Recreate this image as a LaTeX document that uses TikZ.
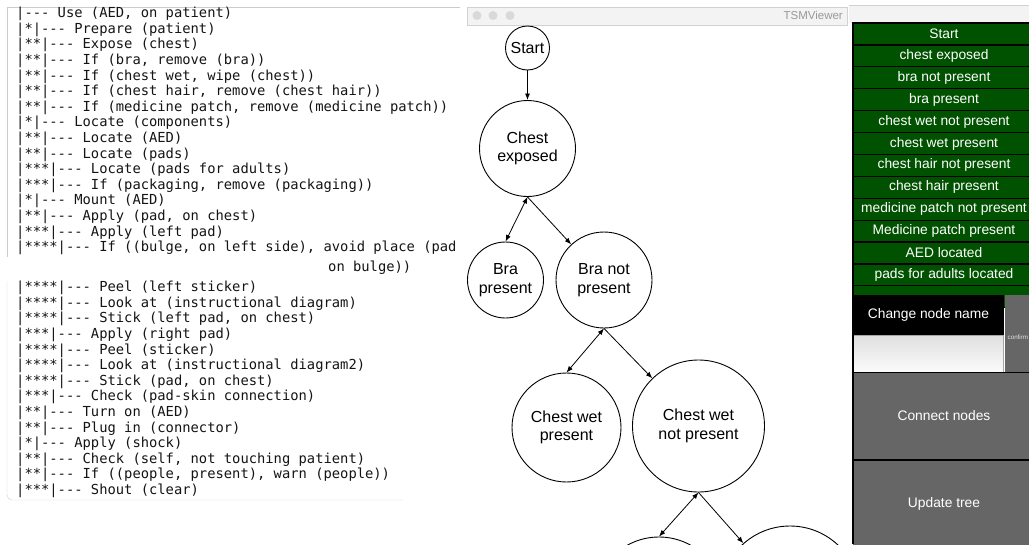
\documentclass[tikz,border=0pt]{standalone}
\usepackage{fontspec}
\setmainfont{Liberation Sans}
\setmonofont{DejaVu Sans Mono}
\usepackage{tikz}
\definecolor{tsmgreen}{RGB}{0,82,0}
\definecolor{btngray}{RGB}{102,102,102}
\definecolor{barbg}{RGB}{243,243,243}
\definecolor{codeink}{RGB}{20,20,20}
\tikzset{state/.style={draw,circle,line width=0.9pt,inner sep=0pt,align=center,font=\fontsize{16}{18.5}\selectfont} }
\tikzset{codeline/.style={anchor=west,inner sep=0pt,text=codeink,font=\ttfamily\fontsize{13.8}{15.6}\selectfont} }
\tikzset{listrow/.style={draw=black,line width=1.2pt,fill=tsmgreen,text=white,minimum width=182pt,minimum height=21.9pt,inner sep=0pt,font=\fontsize{13.8}{16}\selectfont} }
\tikzset{panelbtn/.style={fill=btngray,text=white,minimum width=182pt,minimum height=86pt,inner sep=0pt,font=\fontsize{13.8}{16}\selectfont} }
\tikzset{edge/.style={line width=0.8pt,>={Latex[length=6.5pt,width=5pt]}} }
\usetikzlibrary{positioning,arrows.meta}

\begin{document}
\begin{tikzpicture}[x=1pt,y=-1pt]
    \useasboundingbox (0,0) rectangle (1029,544);
    \clip (0,0) rectangle (1029,544);
    % task tree, first part
    \draw[gray!40] (7,257) -- (7,7) -- (460,7);
    \foreach \txt [count=\i] in {{|--- Use (AED, on patient)},{|*|--- Prepare (patient)},{|**|--- Expose (chest)},{|**|--- If (bra, remove (bra))},{|**|--- If (chest wet, wipe (chest))},{|**|--- If (chest hair, remove (chest hair))},{|**|--- If (medicine patch, remove (medicine patch))},{|*|--- Locate (components)},{|**|--- Locate (AED)},{|**|--- Locate (pads)},{|***|--- Locate (pads for adults)},{|***|--- If (packaging, remove (packaging))},{|*|--- Mount (AED)},{|**|--- Apply (pad, on chest)},{|***|--- Apply (left pad)},{|****|--- If ((bulge, on left side), avoid place (pad}}
        \node[codeline] (ta\i) at (16,{14+(\i-1)*15.6}) {\txt};
    \node[codeline] (ta17) at (328,268) {on bulge))};
    % task tree, second part
    \draw[gray!40,rounded corners=5pt] (7,281) -- (7,500) -- (403,500);
    \foreach \txt [count=\i] in {{|****|--- Peel (left sticker)},{|****|--- Look at (instructional diagram)},{|****|--- Stick (left pad, on chest)},{|***|--- Apply (right pad)},{|****|--- Peel (sticker)},{|****|--- Look at (instructional diagram2)},{|****|--- Stick (pad, on chest)},{|***|--- Check (pad-skin connection)},{|**|--- Turn on (AED)},{|**|--- Plug in (connector)},{|*|--- Apply (shock)},{|**|--- Check (self, not touching patient)},{|**|--- If ((people, present), warn (people))},{|***|--- Shout (clear)}}
        \node[codeline] (tb\i) at (16,{288+(\i-1)*15.6}) {\txt};
    % viewer window
    \draw[fill=barbg,draw=gray!35] (467,7) rectangle (847,25);
    \foreach \dx [count=\k] in {477,493,510}
        \node[circle,fill=gray!30,minimum size=9pt,inner sep=0pt] (dot\k) at (\dx,15.5) {};
    \node[anchor=east,inner sep=0pt,text=gray!80,font=\fontsize{11.5}{13}\selectfont] (title) at (843,15.5) {TSMViewer};
    \node[state,minimum size=44pt] (start) at (527.5,48) {Start};
    \node[state,minimum size=96pt] (chest) at (527.5,148.5) {Chest\\exposed};
    \node[state,minimum size=76pt] (brap) at (505.5,280) {Bra\\present};
    \node[state,minimum size=96pt] (branp) at (604,280) {Bra not\\present};
    \node[state,minimum size=109pt] (cwp) at (566.5,427.5) {Chest wet\\present};
    \node[state,minimum size=132pt] (cwnp) at (698.5,426) {Chest wet\\not present};
    \node[state,minimum size=130pt] (chp) at (659,602) {};
    \node[state,minimum size=140pt] (chnp) at (790,596) {};
    \draw[edge,->] (start) -- (chest);
    \draw[edge,<->] (chest.south) -- (brap.north);
    \draw[edge,->] (chest.south) -- (branp);
    \draw[edge,<->] (branp.south) -- (cwp.north);
    \draw[edge,->] (branp.south) -- (cwnp);
    \draw[edge,<->] (cwnp.south) -- (chp.north);
    \draw[edge,->] (cwnp.south) -- (chnp);
    % side panel
    \fill[barbg] (849,5) rectangle (1029,23);
    \draw[gray!35] (849,5) -- (1029,5);
    \foreach \lbl [count=\k from 0] in {Start,chest exposed,bra not present,bra present,chest wet not present,chest wet present,chest hair not present,chest hair present,medicine patch not present,Medicine patch present,AED located,pads for adults located}
        \node[listrow] (row\k) at (944,{33.95+\k*21.9}) {\lbl};
    \node[listrow] (row12) at (944,296.75) {};
    \node[fill=black,text=white,minimum width=151pt,minimum height=40pt,inner sep=0pt,font=\fontsize{13.8}{16}\selectfont] (rename) at (928.5,315) {Change node name};
    \node[fill=btngray,minimum width=30pt,minimum height=77pt,inner sep=0pt] (okbtn) at (1020,333.5) {};
    \node[anchor=west,inner sep=0pt,text=gray!20,font=\fontsize{6.2}{7}\selectfont] (oklabel) at (1007.5,337) {confirm};
    \node[draw=gray!70,top color=gray!25,bottom color=gray!3,minimum width=150pt,minimum height=37pt,inner sep=0pt] (namefield) at (928,353.5) {};
    \node[panelbtn] (connect) at (944,416) {Connect nodes};
    \node[panelbtn] (update) at (944,504) {Update tree};
    \draw[line width=1.5pt] (853,372.5) -- (1029,372.5);
    \draw[line width=1.5pt] (853,460) -- (1029,460);
    \draw[line width=1.5pt] (853,23) -- (853,544);
\end{tikzpicture}
\end{document}
